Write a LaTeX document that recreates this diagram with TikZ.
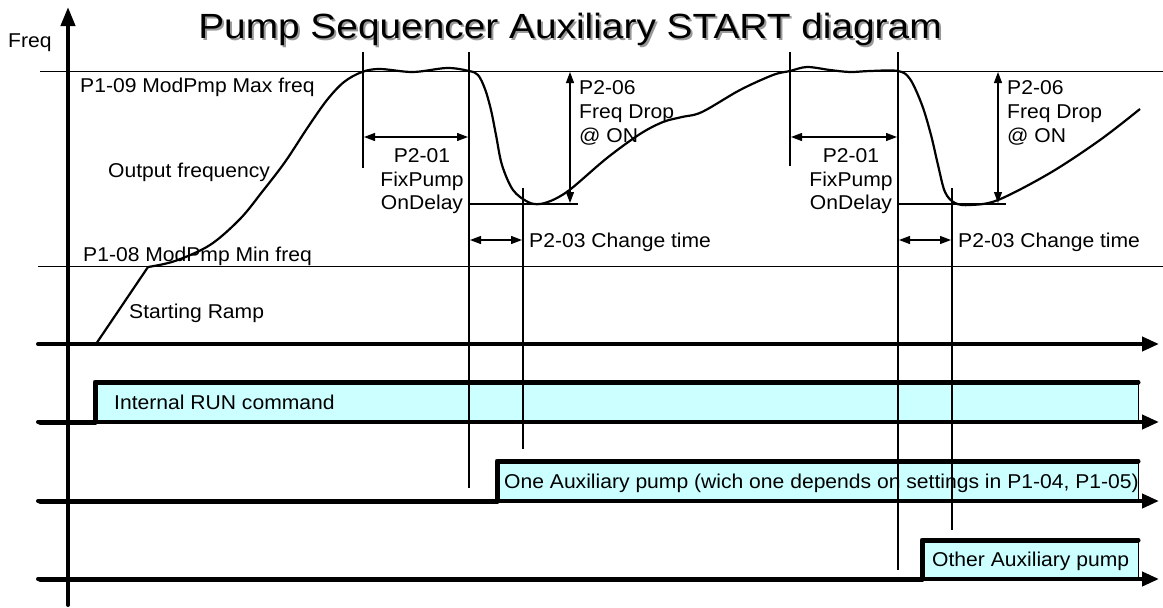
\documentclass[tikz,border=0pt]{standalone}
\usepackage{fontspec}
\setmainfont{Liberation Sans}[FakeStretch=1.055]
\newfontfamily\titlefont{Liberation Sans}[FakeStretch=1.11]
\usetikzlibrary{arrows.meta}
\definecolor{sigfill}{HTML}{CCFFFF}
\tikzset{
  lbl/.style={font=\fontsize{20}{24}\selectfont, inner sep=0pt},
  ttl/.style={font=\titlefont\fontsize{35}{40}\selectfont, inner sep=0pt, anchor=base},
  refline/.style={line width=1pt},
  yaxis/.style={line width=4pt, line cap=round, -{Triangle[length=19pt,width=14pt]}},
  timeaxis/.style={line width=4pt, line cap=round, -{Triangle[length=17pt,width=14pt]}},
  marker/.style={line width=2pt},
  baseline/.style={line width=1.8pt},
  dimarrow/.style={line width=1.2pt, {Triangle[length=11pt,width=8pt]}-{Triangle[length=11pt,width=8pt]}},
  signal/.style={line width=5pt, line cap=round, line join=round},
  edge/.style={line width=1pt},
  freqcurve/.style={line width=2.2pt, line join=round},
}
\begin{document}
\begin{tikzpicture}[x=1pt,y=-1pt]
\useasboundingbox (0,0) rectangle (1163,608);

% ---------- reference frequency levels ----------
\coordinate (maxL) at (40,71);  \coordinate (maxR) at (1163,71);
\coordinate (minL) at (38,266); \coordinate (minR) at (1163,266);
\draw[refline] (maxL) -- (maxR);
\draw[refline] (minL) -- (minR);

% ---------- signal boxes (fill first) ----------
\coordinate (r1) at (95,382);  \coordinate (r2) at (1138,422);
\coordinate (o1) at (497,461); \coordinate (o2) at (1138,501);
\coordinate (x1) at (922,540); \coordinate (x2) at (1138,579);
\fill[sigfill] (r1) rectangle (r2);
\fill[sigfill] (o1) rectangle (o2);
\fill[sigfill] (x1) rectangle (x2);
\draw[edge] (1138,382) -- (r2);
\draw[edge] (1138,461) -- (o2);
\draw[edge] (1138,540) -- (x2);

% ---------- axes ----------
\coordinate (yb) at (68,605); \coordinate (yt) at (68,7);
\draw[yaxis] (yb) -- (yt);
\coordinate (a1s) at (38,344); \coordinate (a1e) at (1159,344);
\coordinate (a2s) at (38,422); \coordinate (a2e) at (1159,422);
\coordinate (a3s) at (38,501); \coordinate (a3e) at (1159,501);
\coordinate (a4s) at (38,579); \coordinate (a4e) at (1159,579);
\draw[timeaxis] (a1s) -- (a1e);
\draw[timeaxis] (a2s) -- (a2e);
\draw[timeaxis] (a3s) -- (a3e);
\draw[timeaxis] (a4s) -- (a4e);

% ---------- digital signals ----------
\draw[signal] (40,422) -- (95,422) -- (r1) -- (1138,382);
\draw[signal] (40,501) -- (497,501) -- (o1) -- (1138,461);
\draw[signal] (40,579) -- (922,579) -- (x1) -- (1138,540);

\node[lbl, anchor=base west] (runlbl) at (114,409) {Internal RUN command};
\node[lbl, anchor=base west] (onelbl) at (504,488) {One Auxiliary pump (wich one depends on settings in P1-04, P1-05)};
\node[lbl, anchor=base west] (othlbl) at (932,566) {Other Auxiliary pump};

% ---------- output frequency curve ----------
\coordinate (ramp0) at (96,344);
\coordinate (ramp1) at (148,267);
\draw[freqcurve] (ramp0) -- (ramp1);
\draw[freqcurve] plot[smooth, tension=0.55] coordinates {
  (148,267) (175,261) (210,245) (240,219) (262,192) (285,162) (308,127)
  (327,100) (344,82) (362,72) (380,69) (413,72) (447,68) (469,71)
  (478,75) (485,89) (491,110) (496,135) (502,165) (513,190) (528,202)
  (540,204) (555,199) (572,188) (607,158) (640,134) (663,122) (682,117)
  (702,112) (740,90) (773,75) (790,71) (807,67) (830,70) (850,72)
  (870,71) (898,71) (910,79) (922,105) (931,135) (938,165) (945,192)
  (955,203) (970,205) (998,200) (1050,173) (1100,140) (1140,109)};

% ---------- timing markers ----------
\coordinate (v1t) at (363,52);  \coordinate (v1b) at (363,168);
\coordinate (v2t) at (469,52);  \coordinate (v2b) at (469,488);
\coordinate (v3t) at (523,188); \coordinate (v3b) at (523,449);
\coordinate (v4t) at (790,52);  \coordinate (v4b) at (790,166);
\coordinate (v5t) at (898,52);  \coordinate (v5b) at (898,570);
\coordinate (v6t) at (952,188); \coordinate (v6b) at (952,530);
\draw[marker] (v1t) -- (v1b);
\draw[marker] (v2t) -- (v2b);
\draw[marker] (v3t) -- (v3b);
\draw[marker] (v4t) -- (v4b);
\draw[marker] (v5t) -- (v5b);
\draw[marker] (v6t) -- (v6b);

% drop level
\coordinate (d1a) at (469,204); \coordinate (d1b) at (578,204);
\coordinate (d2a) at (898,204); \coordinate (d2b) at (1006,204);
\draw[baseline] (d1a) -- (d1b);
\draw[baseline] (d2a) -- (d2b);

% ---------- dimension arrows ----------
\coordinate (p01a) at (364,137); \coordinate (p01b) at (468,137);
\coordinate (p01c) at (791,137); \coordinate (p01d) at (897,137);
\draw[dimarrow] (p01a) -- (p01b);
\draw[dimarrow] (p01c) -- (p01d);
\coordinate (p03a) at (470,240); \coordinate (p03b) at (522,240);
\coordinate (p03c) at (899,240); \coordinate (p03d) at (951,240);
\draw[dimarrow] (p03a) -- (p03b);
\draw[dimarrow] (p03c) -- (p03d);
\coordinate (p06a) at (570,72); \coordinate (p06b) at (570,203);
\coordinate (p06c) at (998,72); \coordinate (p06d) at (998,203);
\draw[dimarrow] (p06a) -- (p06b);
\draw[dimarrow] (p06c) -- (p06d);

% ---------- labels ----------
\node[ttl, text=black!40] (titleshadow) at (572,40) {Pump Sequencer Auxiliary START diagram};
\node[ttl] (title) at (570,38) {Pump Sequencer Auxiliary START diagram};

\node[lbl, anchor=base west] (freq) at (8,47) {Freq};
\node[lbl, anchor=base west] (maxlbl) at (80,92) {P1-09 ModPmp Max freq};
\node[lbl, anchor=base west] (outlbl) at (108,177) {Output frequency};
\node[lbl, anchor=base west] (minlbl) at (83,261) {P1-08 ModPmp Min freq};
\node[lbl, anchor=base west] (ramplbl) at (129,318) {Starting Ramp};

\node[lbl, anchor=base] (da1) at (422,162) {P2-01};
\node[lbl, anchor=base] (da2) at (422,186) {FixPump};
\node[lbl, anchor=base] (da3) at (422,209) {OnDelay};
\node[lbl, anchor=base] (db1) at (851,162) {P2-01};
\node[lbl, anchor=base] (db2) at (851,186) {FixPump};
\node[lbl, anchor=base] (db3) at (851,209) {OnDelay};

\node[lbl, anchor=base west] (fa1) at (579,94) {P2-06};
\node[lbl, anchor=base west] (fa2) at (579,118) {Freq Drop};
\node[lbl, anchor=base west] (fa3) at (579,142) {@ ON};
\node[lbl, anchor=base west] (fb1) at (1007,94) {P2-06};
\node[lbl, anchor=base west] (fb2) at (1007,118) {Freq Drop};
\node[lbl, anchor=base west] (fb3) at (1007,142) {@ ON};

\node[lbl, anchor=base west] (ca) at (529,247) {P2-03 Change time};
\node[lbl, anchor=base west] (cb) at (958,247) {P2-03 Change time};
\end{tikzpicture}
\end{document}
